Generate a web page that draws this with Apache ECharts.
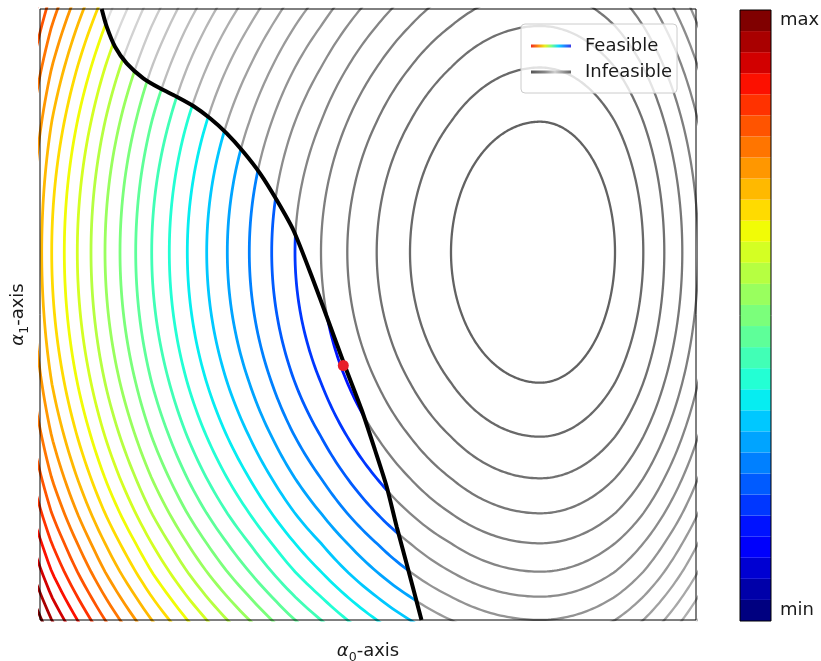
<!DOCTYPE html>
<html><head><meta charset="utf-8">
<script src="https://cdn.jsdelivr.net/npm/echarts@6/dist/echarts.min.js"></script>
<style>html,body{margin:0;padding:0;background:#fff}#c{width:821px;height:661px}</style>
</head><body><div id="c"></div>
<script>
// ---- data (plot units: α0 in [0,656], α1 in [0,611]) ----
const xRange = [0, 656];
const yRange = [0, 611];
const levelCount = 29;
// centre of the objective's contours
const center = [500, 367.8];
// distance from the centre at which contour level k (k = 1..n) crosses each half-axis
const distLeft  = [89, 130, 163.3, 192.7, 219, 245, 268.3, 290.7, 312.7, 333.3, 352.7, 370.7, 388.3, 404.3, 420, 435, 449, 462.7, 475.7, 488.3, 498.3];
const distRight = [75, 103.3, 124.3, 142.3];
const distDown  = [130.5, 184.5, 226.1, 261.1, 291.1, 319.5, 344.5];
const distUp    = [130.5, 184.7, 226.2];
// constraint boundary (feasible side is to the left)
const constraintX = [61.7, 66.7, 75, 86.7, 103.3, 120, 136.7, 153.3, 170, 186.7, 203.3, 220, 236.7, 253.3, 272, 288, 304.5, 321.7, 335, 346.7, 356.7, 368.3, 381.5];
const constraintY = [611, 593.3, 573.3, 556.7, 541.7, 531.7, 523.3, 514, 501.7, 486.7, 468.3, 446.7, 420, 390, 343, 300, 255, 210, 170, 133.3, 93.3, 50, 0];
// constrained optimum
const optimum = [303.3, 254.5];
const colorbarLabels = ['min', 'max'];
const legendNames = ['Feasible', 'Infeasible'];

// ---- colour maps ----
function seg(s, t) {
  for (let i = 1; i < s.length; i++) {
    if (t <= s[i][0]) { const a = s[i-1], b = s[i]; return a[1] + (b[1]-a[1]) * (t-a[0])/(b[0]-a[0]); }
  }
  return s[s.length-1][1];
}
const JR = [[0,0],[0.35,0],[0.66,1],[0.89,1],[1,0.5]];
const JG = [[0,0],[0.125,0],[0.375,1],[0.64,1],[0.91,0],[1,0]];
const JB = [[0,0.5],[0.11,1],[0.34,1],[0.65,0],[1,0]];
function jet(t) {
  const c = v => Math.round(Math.max(0, Math.min(1, v)) * 255);
  return 'rgb(' + c(seg(JR,t)) + ',' + c(seg(JG,t)) + ',' + c(seg(JB,t)) + ')';
}
function grey(k) { const v = Math.min(228, Math.round(98 + (k-1) * 7)); return 'rgb(' + v + ',' + v + ',' + v + ')'; }

// ---- contour geometry from the half-axis readings ----
function dist(arr, v) {
  const s = Math.sqrt(Math.max(v, 0)), n = arr.length;
  if (s <= 1) return arr[0] * s;
  for (let k = 1; k < n; k++) {
    const s0 = Math.sqrt(k), s1 = Math.sqrt(k+1);
    if (s <= s1) return arr[k-1] + (arr[k]-arr[k-1]) * (s-s0)/(s1-s0);
  }
  const s0 = Math.sqrt(n-1), s1 = Math.sqrt(n);
  return arr[n-1] + (arr[n-1]-arr[n-2]) * (s-s1)/(s1-s0);
}
function boundaryX(y) {
  const n = constraintY.length;
  let i = 0;
  if (y >= constraintY[0]) i = 0;
  else if (y <= constraintY[n-1]) i = n-2;
  else { while (i < n-2 && constraintY[i+1] > y) i++; }
  const y0 = constraintY[i], y1 = constraintY[i+1];
  return constraintX[i] + (constraintX[i+1]-constraintX[i]) * (y-y0)/(y1-y0);
}
const feasible = p => p[0] < boundaryX(p[1]);
function contourPoint(k, phi) {
  const c = Math.cos(phi), s = Math.sin(phi);
  const g = k * c * c, u = k * s * s;
  const x = center[0] + (c >= 0 ? dist(distRight, g) : -dist(distLeft, g));
  const y = center[1] + (s >= 0 ? dist(distUp, u) : -dist(distDown, u));
  return [x, y];
}
const feasibleData = [], infeasibleData = [];
const N = 480;
for (let k = 1; k <= levelCount; k++) {
  const pts = [];
  for (let i = 0; i <= N; i++) pts.push(contourPoint(k, 2*Math.PI*i/N));
  const runs = [];
  let cur = [pts[0]], cls = feasible(pts[0]);
  for (let i = 1; i < pts.length; i++) {
    const q = pts[i], qc = feasible(q);
    if (qc !== cls) {
      let a = pts[i-1], b = q;
      for (let it = 0; it < 20; it++) {
        const m = [(a[0]+b[0])/2, (a[1]+b[1])/2];
        if (feasible(m) === cls) a = m; else b = m;
      }
      const cp = [(a[0]+b[0])/2, (a[1]+b[1])/2];
      cur.push(cp); runs.push({f: cls, pts: cur});
      cur = [cp, q]; cls = qc;
    } else cur.push(q);
  }
  runs.push({f: cls, pts: cur});
  if (runs.length > 1 && runs[0].f === runs[runs.length-1].f) {
    const last = runs.pop();
    runs[0].pts = last.pts.concat(runs[0].pts.slice(1));
  }
  const t = (k-1)/(levelCount-1);
  runs.forEach(r => {
    if (r.f) feasibleData.push({coords: r.pts, lineStyle: {color: jet(t)}});
    else infeasibleData.push({coords: r.pts, lineStyle: {color: grey(k)}});
  });
}
const constraintData = constraintX.map((x, i) => [x, constraintY[i]]);
const colorbarData = [];
for (let k = 0; k < levelCount; k++) colorbarData.push({value: 1, itemStyle: {color: jet(k/(levelCount-1))}});

const txt = '#1a1a1a', ff = 'DejaVu Sans';
const rich = {
  m: {fontFamily: ff, fontStyle: 'italic', fontSize: 18, lineHeight: 26, verticalAlign: 'middle', color: txt},
  s: {fontFamily: ff, fontSize: 12.6, lineHeight: 16, verticalAlign: 'bottom', color: txt},
  t: {fontFamily: ff, fontSize: 18, lineHeight: 26, verticalAlign: 'middle', color: txt}
};
const feasGrad = {type: 'linear', x: 0, y: 0, x2: 1, y2: 0, colorStops: [
  {offset: 0, color: '#ee2c1e'}, {offset: 0.2, color: '#ff9a10'}, {offset: 0.35, color: '#e8f020'},
  {offset: 0.5, color: '#80ff80'}, {offset: 0.68, color: '#10d8ff'}, {offset: 0.85, color: '#2080ff'},
  {offset: 1, color: '#3a3ae8'}]};
const infGrad = {type: 'linear', x: 0, y: 0, x2: 1, y2: 0, colorStops: [
  {offset: 0, color: '#555555'}, {offset: 0.35, color: '#888888'}, {offset: 0.6, color: '#d0d0d0'},
  {offset: 0.8, color: '#999999'}, {offset: 1, color: '#666666'}]};

const chart = echarts.init(document.getElementById('c'), null, {renderer: 'canvas'});
chart.setOption({
  animation: false,
  backgroundColor: '#fff',
  grid: [
    {left: 40, top: 9, width: 656, height: 611, containLabel: false, outerBoundsMode: 'none', show: true, borderColor: '#000', borderWidth: 1, backgroundColor: 'transparent', z: 10},
    {left: 740, top: 10, width: 31, height: 611, containLabel: false, outerBoundsMode: 'none', show: true, borderColor: '#000', borderWidth: 1, backgroundColor: 'transparent', z: 10}
  ],
  xAxis: [
    {type: 'value', gridIndex: 0, min: xRange[0], max: xRange[1], axisLine: {show: false}, axisTick: {show: false}, axisLabel: {show: false}, splitLine: {show: false},
     name: '{m|α}{s|0}{t|-axis}', nameLocation: 'middle', nameGap: 18, nameTextStyle: {rich: rich}},
    {type: 'value', gridIndex: 1, min: 0, max: 1, show: false}
  ],
  yAxis: [
    {type: 'value', gridIndex: 0, min: yRange[0], max: yRange[1], axisLine: {show: false}, axisTick: {show: false}, axisLabel: {show: false}, splitLine: {show: false},
     name: '{m|α}{s|1}{t|-axis}', nameLocation: 'middle', nameGap: 9, nameRotate: 90, nameTextStyle: {rich: rich}},
    {type: 'category', gridIndex: 1, position: 'right', data: colorbarData.map((d, i) => String(i)),
     axisLine: {show: false}, axisTick: {show: false}, splitLine: {show: false},
     axisLabel: {interval: 0, margin: 9, fontFamily: ff, fontSize: 18, color: txt,
       formatter: (v, i) => i === 0 ? colorbarLabels[0] : (i === levelCount-1 ? colorbarLabels[1] : '')}}
  ],
  legend: {
    left: 521, top: 24, orient: 'vertical', selectedMode: false,
    padding: [13, 5, 12, 10], itemWidth: 40, itemHeight: 3, itemGap: 8,
    backgroundColor: 'rgba(255,255,255,0.8)', borderColor: '#cccccc', borderWidth: 1, borderRadius: 4,
    textStyle: {fontFamily: ff, fontSize: 18, color: txt, padding: [0, 0, 0, 9]},
    data: [
      {name: legendNames[0], icon: 'rect', itemStyle: {color: feasGrad, borderWidth: 0}},
      {name: legendNames[1], icon: 'rect', itemStyle: {color: infGrad, borderWidth: 0}}
    ]
  },
  series: [
    {name: legendNames[1], type: 'lines', coordinateSystem: 'cartesian2d', xAxisIndex: 0, yAxisIndex: 0, polyline: true, clip: true,
     lineStyle: {width: 2.3, opacity: 1, color: '#888'}, data: infeasibleData, z: 2, silent: true},
    {name: legendNames[0], type: 'lines', coordinateSystem: 'cartesian2d', xAxisIndex: 0, yAxisIndex: 0, polyline: true, clip: true,
     lineStyle: {width: 2.8, opacity: 1, color: '#0080ff'}, data: feasibleData, z: 2, silent: true},
    {name: 'constraint', type: 'line', xAxisIndex: 0, yAxisIndex: 0, data: constraintData, showSymbol: false, smooth: 0.25,
     lineStyle: {color: '#000', width: 4}, z: 3, silent: true},
    {name: 'optimum', type: 'scatter', xAxisIndex: 0, yAxisIndex: 0, data: [optimum], symbolSize: 11,
     itemStyle: {color: '#e8202a', opacity: 1}, z: 5, silent: true},
    {name: 'colorbar', type: 'bar', xAxisIndex: 1, yAxisIndex: 1, data: colorbarData, barCategoryGap: '0%', barWidth: '100%', silent: true}
  ]
});
</script></body></html>
